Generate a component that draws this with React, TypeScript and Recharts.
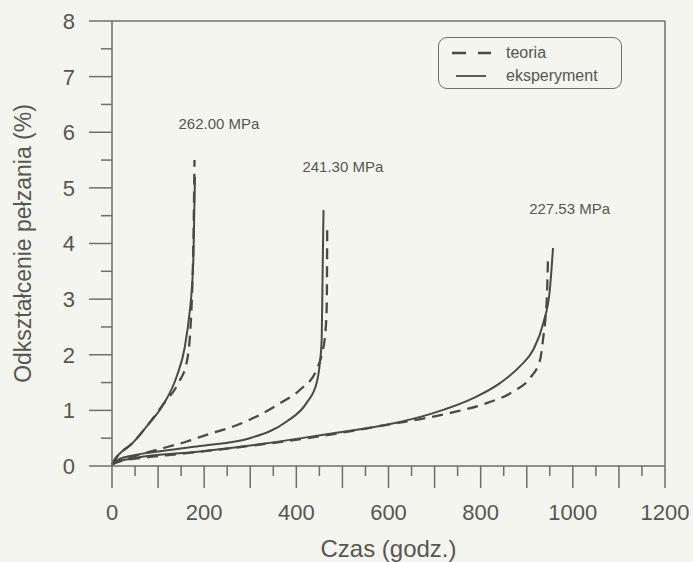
import React from 'react';
import { LineChart, Line, XAxis, YAxis, ReferenceLine, ReferenceDot, Legend } from 'recharts';

// --- data (time in hours, creep strain in %) ---
const t262Exp = [0, 5, 14, 43, 75, 111, 140, 158, 169, 173, 177, 179, 180];
const e262Exp = [0.03, 0.11, 0.2, 0.4, 0.71, 1.1, 1.6, 2.14, 2.8, 3.16, 3.88, 4.78, 5.2];
const t262Th = [0, 14, 43, 75, 113, 144, 163, 169, 172, 174, 177, 179];
const e262Th = [0.03, 0.2, 0.4, 0.71, 1.13, 1.49, 1.9, 2.32, 2.75, 3.16, 4.2, 5.5];

const t241Exp = [0, 10, 40, 100, 191, 299, 379, 422, 444, 451, 455, 457, 459];
const e241Exp = [0.03, 0.1, 0.18, 0.26, 0.36, 0.5, 0.8, 1.13, 1.49, 1.85, 2.27, 3.46, 4.6];
const t241Th = [0, 15, 50, 97, 162, 205, 263, 321, 365, 408, 444, 455, 463, 466, 467];
const e241Th = [0.03, 0.1, 0.18, 0.29, 0.44, 0.56, 0.71, 0.92, 1.13, 1.37, 1.73, 2.0, 2.4, 2.9, 4.33];

const t227Exp = [0, 10, 48, 191, 336, 480, 596, 697, 784, 842, 885, 914, 936, 950, 957];
const e227Exp = [0.03, 0.07, 0.14, 0.26, 0.41, 0.59, 0.74, 0.95, 1.22, 1.49, 1.79, 2.09, 2.57, 3.16, 3.92];
const t227Th = [0, 15, 60, 150, 372, 500, 596, 661, 748, 813, 871, 907, 929, 936, 941, 944, 946];
const e227Th = [0.03, 0.08, 0.14, 0.22, 0.44, 0.6, 0.74, 0.83, 0.98, 1.13, 1.34, 1.58, 1.91, 2.32, 2.7, 3.1, 3.7];

const stressLabels = ['262.00 MPa', '241.30 MPa', '227.53 MPa'];
const labelT = [232, 501, 993];
const labelE = [6.15, 5.38, 4.63];

const xTicks = Array.from({ length: 25 }, (_, i) => i * 50);
const yTicks = Array.from({ length: 17 }, (_, i) => i * 0.5);

const legendNames = ['teoria', 'eksperyment'];

const toRows = (ts: number[], es: number[]) => ts.map((t, i) => ({ t, e: es[i] }));

const LINE = '#4a4a45';
const AXIS = '#6e6e6a';
const TEXT = '#565652';
const FONT = '"Liberation Sans", Arial, sans-serif';

const XTick = (props: any) => {
  const { x, y, payload } = props;
  const v = payload.value;
  const major = v % 100 === 0;
  return (
    <g>
      <line x1={x} x2={x} y1={y} y2={y + (major ? 22 : 10)} stroke={AXIS} strokeWidth={1.5} />
      {v % 200 === 0 && (
        <text x={x} y={y + 54} textAnchor="middle" fontSize={22} fill={TEXT} fontFamily={FONT}>
          {v}
        </text>
      )}
    </g>
  );
};

const YTick = (props: any) => {
  const { x, y, payload } = props;
  const v = payload.value;
  const major = Number.isInteger(v);
  return (
    <g>
      <line x1={x - (major ? 23 : 11)} x2={x} y1={y} y2={y} stroke={AXIS} strokeWidth={1.5} />
      {major && (
        <text x={x - 37} y={y} dy="0.36em" textAnchor="end" fontSize={22} fill={TEXT} fontFamily={FONT}>
          {v}
        </text>
      )}
    </g>
  );
};

const LegendBox = (props: any) => {
  const items = legendNames
    .map((n) => (props.payload || []).find((p: any) => p.value === n))
    .filter(Boolean);
  return (
    <div
      style={{
        width: 184,
        height: 52,
        border: `1.5px solid ${AXIS}`,
        borderRadius: 9,
        boxSizing: 'border-box',
        fontFamily: FONT,
        fontSize: 16,
        color: TEXT,
        paddingTop: 3,
      }}
    >
      {items.map((it: any) => (
        <div key={it.value} style={{ display: 'flex', alignItems: 'center', height: 23 }}>
          <svg width={67} height={20} style={{ display: 'block' }}>
            {it.payload && it.payload.strokeDasharray ? (
              <line x1={13} x2={52} y1={10} y2={10} stroke={LINE} strokeWidth={2.4} strokeDasharray="14 12" />
            ) : (
              <line x1={17} x2={47} y1={10} y2={10} stroke={LINE} strokeWidth={1.8} />
            )}
          </svg>
          <span>{it.value}</span>
        </div>
      ))}
    </div>
  );
};

export default function App() {
  const series = [
    { name: 'teoria', data: toRows(t262Th, e262Th), dashed: true, legend: true },
    { name: 'eksperyment', data: toRows(t262Exp, e262Exp), dashed: false, legend: true },
    { name: 't241', data: toRows(t241Th, e241Th), dashed: true, legend: false },
    { name: 'e241', data: toRows(t241Exp, e241Exp), dashed: false, legend: false },
    { name: 't227', data: toRows(t227Th, e227Th), dashed: true, legend: false },
    { name: 'e227', data: toRows(t227Exp, e227Exp), dashed: false, legend: false },
  ];
  return (
    <div style={{ position: 'absolute', left: 0, top: 0, width: 693, height: 562, background: '#f4f5ee' }}>
      <LineChart width={693} height={562} margin={{ top: 21, right: 28, bottom: 0, left: 0 }}>
        <XAxis
          type="number"
          dataKey="t"
          domain={[0, 1200]}
          ticks={xTicks}
          interval={0}
          tickSize={0}
          tickMargin={0}
          tickLine={false}
          tick={<XTick />}
          height={96}
          axisLine={{ stroke: AXIS, strokeWidth: 1.5 }}
          allowDuplicatedCategory={false}
          label={{
            content: (p: any) => {
              const vb = p.viewBox;
              return (
                <text x={vb.x + vb.width / 2} y={vb.y + 91} textAnchor="middle" fontSize={24} fill={TEXT} fontFamily={FONT}>
                  Czas (godz.)
                </text>
              );
            },
          }}
        />
        <YAxis
          type="number"
          dataKey="e"
          domain={[0, 8]}
          ticks={yTicks}
          interval={0}
          tickSize={0}
          tickMargin={0}
          tickLine={false}
          tick={<YTick />}
          width={112}
          axisLine={{ stroke: AXIS, strokeWidth: 1.5 }}
          label={{
            content: (p: any) => {
              const vb = p.viewBox;
              const cx = vb.x + 23;
              const cy = vb.y + vb.height / 2;
              return (
                <text
                  x={cx}
                  y={cy}
                  transform={`rotate(-90 ${cx} ${cy})`}
                  textAnchor="middle"
                  dy="0.36em"
                  fontSize={23}
                  fill={TEXT}
                  fontFamily={FONT}
                >
                  Odkształcenie pełzania (%)
                </text>
              );
            },
          }}
        />
        <ReferenceLine y={8} stroke={AXIS} strokeWidth={1.5} />
        <ReferenceLine x={1200} stroke={AXIS} strokeWidth={1.5} />
        {series.map((s) => (
          <Line
            key={s.name}
            name={s.name}
            data={s.data}
            dataKey="e"
            type="monotone"
            stroke={LINE}
            strokeWidth={s.dashed ? 2.3 : 2}
            strokeDasharray={s.dashed ? '11 7' : undefined}
            dot={false}
            activeDot={false}
            legendType={s.legend ? 'line' : 'none'}
            isAnimationActive={false}
          />
        ))}
        {stressLabels.map((txt, i) => (
          <ReferenceDot
            key={txt}
            x={labelT[i]}
            y={labelE[i]}
            r={1}
            fill="none"
            stroke="none"
            label={{ value: txt, position: 'center', fontSize: 15, fill: TEXT, fontFamily: FONT }}
          />
        ))}
        <Legend
          layout="horizontal"
          verticalAlign="middle"
          align="center"
          content={<LegendBox />}
          wrapperStyle={{ left: 438, top: 37, width: 184, height: 52 }}
        />
      </LineChart>
    </div>
  );
}
